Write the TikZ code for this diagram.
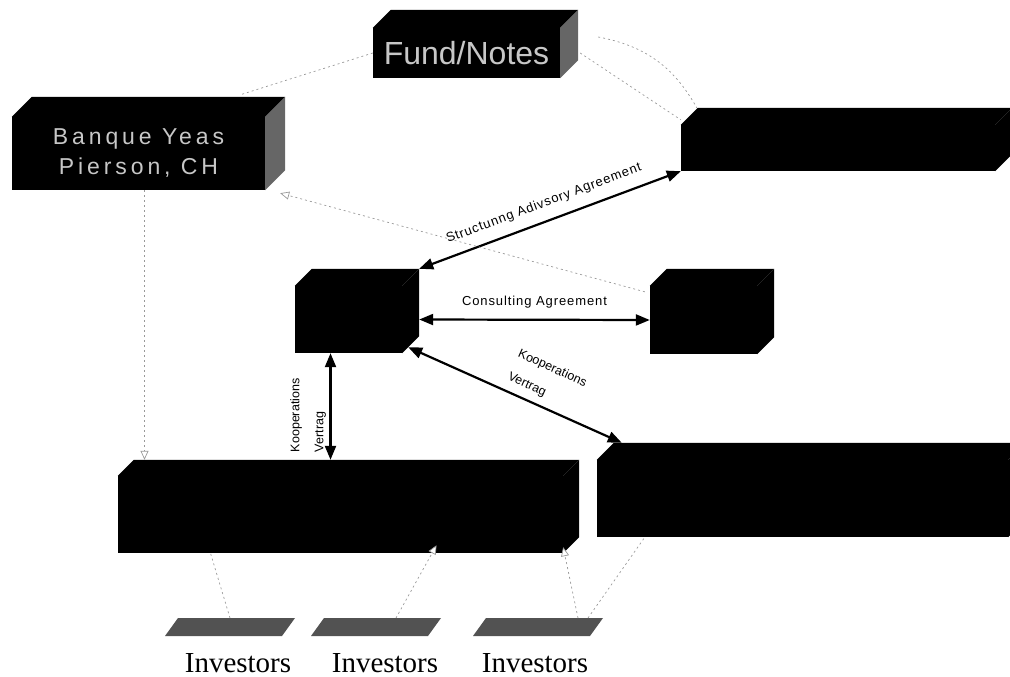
\documentclass[tikz,border=0pt]{standalone}
\usepackage{fontspec}
\setmainfont{Liberation Serif}
\setsansfont{Liberation Sans}
\newfontfamily\agreefont[LetterSpace=7]{Liberation Sans}
\newfontfamily\blockfont[LetterSpace=17]{Liberation Sans}
\usetikzlibrary{arrows.meta}

% top and side faces of a block node: name, depth, side colour
\newcommand\blockfaces[3]{%
  \fill[black] (#1.north west) -- ++(#2,-#2) -- ([shift={(#2,-#2)}]#1.north east) -- (#1.north east) -- cycle;
  \fill[#3] (#1.north east) -- ++(#2,-#2) -- ([shift={(#2,-#2)}]#1.south east) -- (#1.south east) -- cycle;
}

\begin{document}
\begin{tikzpicture}[x=1pt, y=-1pt,
  block/.style={fill=black, inner sep=0pt, text=white!78!black},
  deal/.style={line width=2.2pt, {Triangle[length=14pt,width=11pt]}-{Triangle[length=14pt,width=11pt]}},
  faint/.style={black!40, line width=0.7pt, dash pattern=on 2pt off 3pt},
  faintarrow/.style={faint, -{Triangle[length=9pt,width=8pt,fill=white]}},
  slab/.style={fill=black!68},
  investor/.style={font=\fontsize{29}{31}\selectfont},
  agree/.style={font=\agreefont\fontsize{13}{15}\selectfont},
  koop/.style={font=\sffamily\fontsize{12.5}{14}\selectfont, align=left}]
  \useasboundingbox (0,0) rectangle (1010,677);

  % blocks
  \node[block, minimum width=187pt, minimum height=50pt, font=\sffamily\fontsize{32}{34}\selectfont] (fund) at (466.5,53) {Fund/Notes};
  \blockfaces{fund}{18}{black!60}
  \node[block, minimum width=253pt, minimum height=73pt, align=center, font=\blockfont\fontsize{23}{27}\selectfont] (banque) at (138.5,153.5) {Banque Yeas\\[3pt]Pierson, CH};
  \blockfaces{banque}{20}{black!60}
  \node[block, minimum width=314pt, minimum height=46pt] (topright) at (838,148) {};
  \blockfaces{topright}{17}{black}
  \node[block, minimum width=107pt, minimum height=67pt] (hub) at (348.5,319.5) {};
  \blockfaces{hub}{17}{black}
  \node[block, minimum width=107pt, minimum height=68pt] (advisor) at (703.5,320) {};
  \blockfaces{advisor}{17}{black}
  \node[block, minimum width=445pt, minimum height=77pt] (fundleft) at (340.5,514.5) {};
  \blockfaces{fundleft}{16}{black}
  \node[block, minimum width=411pt, minimum height=77pt] (fundright) at (802.5,498.5) {};
  \blockfaces{fundright}{17}{black}

  % agreements
  \draw[deal] ([shift={(17,-17)}]hub.north east) -- node[midway, above=7pt, sloped, agree] {Structunng Adivsory Agreement} (topright.south west);
  \draw[deal] ([xshift=17pt]hub.east) -- node[midway, above=7pt, agree] {Consulting Agreement} (advisor.west);
  \draw[deal] ([shift={(6,-6)}]hub.south east) -- node[pos=0.6, above=4pt, sloped, koop] {Kooperations\\[11pt]Vertrag} ([shift={(25,-17)}]fundright.north west);
  \draw[deal] ([shift={(-18,-16)}]hub.south |- fundleft.north) -- node[pos=0.03, anchor=south west, sloped, koop] {Kooperations\\[10pt]Vertrag} ([xshift=-18pt]hub.south);

  % faint links
  \draw[faint] (fund.west) -- ([shift={(-25,-22)}]banque.north east);
  \draw[faint] ([xshift=20pt]fund.east) -- ([shift={(0,-5)}]topright.north west);
  \draw[faint] ([shift={(38,-16)}]fund.east) to[bend left=25] ([shift={(16,-17)}]topright.north west);
  \draw[faint, -{Triangle[open, length=9pt, width=8pt]}] ([shift={(-5,6)}]advisor.north west) -- ([shift={(15,3)}]banque.south east);
  \draw[faint, -{Triangle[open, length=9pt, width=8pt]}, shorten >=16pt] ([xshift=6pt]banque.south) -- ([xshift=6pt]banque.south |- fundleft.north);

  % investors
  \foreach \i/\x/\lx in {1/165/238, 2/311/385, 3/473/535} {
    \fill[slab] (\x,636) -- ++(13,-18) -- ++(117,0) -- ++(-13,18) -- cycle;
    \coordinate (slab\i) at (\x+65,618);
    \node[investor] (inv\i) at (\lx,663) {Investors};
  }
  \draw[faint] (slab1) -- ([xshift=-130pt]fundleft.south);
  \draw[faintarrow] ([xshift=20pt]slab2) -- ([shift={(96,-8)}]fundleft.south);
  \draw[faintarrow] ([xshift=40pt]slab3) -- ([shift={(0,-6)}]fundleft.south east);
  \draw[faint] ([xshift=50pt]slab3) -- ([shift={(48,0)}]fundright.south west);
\end{tikzpicture}
\end{document}
